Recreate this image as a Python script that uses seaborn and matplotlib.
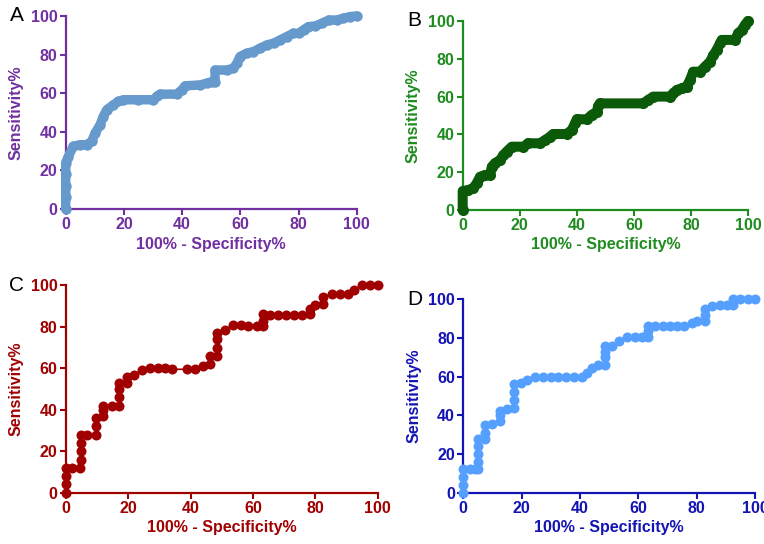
import numpy as np
import pandas as pd
import matplotlib
matplotlib.use("Agg")
import matplotlib.pyplot as plt
import seaborn as sns

# ROC curves: x = 100% - Specificity%, y = Sensitivity%
a_x = [0, 0, 0, 0, 0, 0.9, 2.6, 4.9, 7.2, 8.9, 10.1, 11.8, 12.9, 14.1, 16.4, 18.1, 19.8, 25, 30.1,
       31.3, 32.4, 38.1, 39.9, 41, 46.2, 48.5, 50.2, 51.3, 51.3, 55.3, 57.6, 58.8, 59.9, 62.2, 64.5,
       66.8, 69.1, 71.4, 73.7, 75.9, 78.2, 80, 81.7, 83.4, 85.7, 88, 90.3, 93.1, 95.4, 97.7, 100]
a_y = [0, 6, 12, 18, 24, 27.2, 32.4, 33.3, 33.3, 35, 39.3, 43.6, 47.9, 51.4, 54, 55.7, 56.6, 56.6, 56.6,
       58.3, 59.5, 59.5, 61.7, 63.8, 64.3, 65.2, 66, 66, 72, 72, 72.9, 75.5, 79, 80.7, 81.6,
       83.3, 85, 85.9, 87.6, 89.3, 91, 91, 92.8, 94.5, 94.8, 96.2, 97.9, 97.9, 98.8, 99.7, 100]

b_x = [0, 0, 2, 3.7, 4.9, 6.1, 7.8, 9.6, 10.2, 11.3, 13.1, 14.3, 15.4, 17.2, 21.3, 23, 27.1, 28.9,
       30.6, 31.8, 36.4, 38.2, 39.4, 40, 43.5, 45.2, 47, 47.5, 48.1, 63.3, 65, 66.8, 72.7, 73.8, 75,
       76.8, 78.5, 79.7, 80.8, 83.2, 84.9, 86.7, 87.9, 89, 90.2, 90.8, 95.4, 96.6, 97.8, 98.9, 100]
b_y = [0, 10, 10.6, 11.5, 14.1, 17.6, 18.5, 18.5, 22.9, 24.7, 26.5, 29.1, 30.9, 33.5, 33.5, 35.3, 35.3, 37,
       38.8, 40.2, 40.2, 42.3, 45.9, 48, 48, 50.3, 52, 55, 56.4, 56.4, 58.2, 60, 60, 61.7, 63.5,
       64.4, 65.3, 68.8, 73.2, 73.2, 75.8, 78.5, 82, 84.7, 88.2, 90, 90, 93.5, 95.2, 97.9, 100]

c_x = [0, 0, 0, 0, 2, 4.6, 4.8, 4.8, 4.8, 4.8, 6.7, 9.7, 9.7, 9.7, 12.1, 12.1, 12.1, 14.7, 17.1, 17.1,
       17.1, 17.1, 19.5, 19.5, 21.9, 24.3, 27, 29.7, 31.8, 34.2, 38.8, 41.4, 43.9, 46.2, 46.2, 48.4,
       48.4, 48.4, 48.4, 51, 53.7, 56.2, 58.5, 61.2, 63.3, 63.3, 63.3, 65.5, 68.1, 70.5, 73.2, 75.6,
       78.3, 78.3, 79.9, 82.6, 82.6, 85.3, 87.9, 90.4, 92.5, 94.9, 97.5, 100]
c_y = [0, 4, 8, 12, 12, 12, 16, 20, 24, 28, 28, 28, 32, 36, 37, 40, 42, 42, 42, 46,
       50, 53, 53, 56, 56.7, 59, 60, 60, 60, 59.5, 59.5, 59.5, 61, 62, 66, 66,
       70, 74, 77, 78.4, 80.9, 80.9, 80.3, 80.3, 80.3, 83, 86, 85.7, 85.7, 85.7, 85.7, 85.7,
       86, 88.5, 90.5, 91, 94.5, 96, 96, 96, 97.6, 100, 100, 100]

d_x = [0, 0, 0, 0, 2.3, 4, 5.1, 5.1, 5.1, 5.1, 5.1, 7.4, 7.4, 7.4, 9.7, 12.6, 12.6, 12.6, 14.9, 17.5,
       17.5, 17.5, 17.5, 19.8, 21.9, 24.6, 27.4, 29.9, 32.6, 35.2, 37.9, 40.6, 42.3, 44, 46.3, 48.6,
       48.6, 48.6, 48.6, 50.9, 53.5, 56, 58.9, 61.4, 63.4, 63.4, 63.4, 65.7, 68.6, 70.9, 73.1, 75.7,
       78.3, 80.2, 82.9, 82.9, 82.9, 85.1, 88, 90.3, 92.6, 92.6, 94.9, 97.7, 100]
d_y = [0, 4, 8, 12, 12, 12, 12, 16, 20, 24, 28, 28, 31, 35, 35.5, 37, 40, 42, 43.5, 44,
       48, 52, 56, 56.6, 58.3, 59.7, 59.7, 59.7, 59.7, 59.7, 59.7, 59.7, 61.7, 64.3, 66, 66,
       70, 73, 76, 76, 78.4, 80.3, 80.7, 80.7, 80.7, 83.5, 86.2, 86.2, 86.2, 86.2, 86.2, 86.2,
       87.6, 89, 89, 92, 95, 96.6, 97, 97, 97, 100, 100, 100, 100]

ticks = [0, 20, 40, 60, 80, 100]

sns.set_style("ticks")
plt.rcParams["font.family"] = ["Liberation Sans", "DejaVu Sans"]

fig = plt.figure(figsize=(7.64, 5.44), dpi=100)

# panel: letter, data, axes rect, text colour, marker colour, line width, marker size
panels = [
    ("A", a_x, a_y, [0.086, 0.6158, 0.381, 0.3548], "#7030A0", "#6699CC", 6.8, 7.5),
    ("B", b_x, b_y, [0.6056, 0.614, 0.3734, 0.3474], "#1F8C1F", "#0A5A0A", 7.2, 8),
    ("C", c_x, c_y, [0.086, 0.0943, 0.4084, 0.3813], "#A00000", "#A00000", 1.2, 7.2),
    ("D", d_x, d_y, [0.6064, 0.0943, 0.3818, 0.3555], "#1414B4", "#55A0FF", 1.2, 7.2),
]

for letter, xs, ys, rect, tcol, mcol, lw, ms in panels:
    ax = fig.add_axes(rect)
    df = pd.DataFrame({"spec": xs, "sens": ys})
    sns.lineplot(data=df, x="spec", y="sens", ax=ax, estimator=None, sort=False,
                 color=mcol, linewidth=lw, marker="o", markersize=ms,
                 markeredgewidth=0, solid_capstyle="round", solid_joinstyle="round",
                 clip_on=False, zorder=3)
    ax.set_xlim(0, 100)
    ax.set_ylim(0, 100)
    ax.set_xticks(ticks)
    ax.set_yticks(ticks)
    sns.despine(ax=ax)
    for side in ["left", "bottom"]:
        ax.spines[side].set_color(tcol)
        ax.spines[side].set_linewidth(1.6)
    ax.tick_params(colors=tcol, width=1.5, length=4, labelsize=11.5, pad=2)
    for lab in ax.get_xticklabels() + ax.get_yticklabels():
        lab.set_fontweight("bold")
    ax.set_xlabel("100% - Specificity%", color=tcol, fontsize=11.5, fontweight="bold", labelpad=3)
    ax.set_ylabel("Sensitivity%", color=tcol, fontsize=11.5, fontweight="bold", labelpad=5)
    # panel letter placed left of the axes top
    fig.text(rect[0] - 0.064, rect[1] + rect[3], letter, fontsize=15,
             color="black", ha="center", va="center")

fig.savefig("out.png", dpi=100)
